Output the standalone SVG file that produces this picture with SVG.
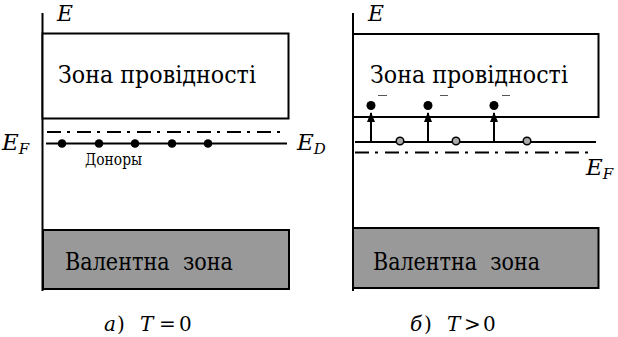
<svg xmlns="http://www.w3.org/2000/svg" width="618" height="337" viewBox="0 0 618 337">
<style>
text{font-family:'DejaVu Serif',serif;fill:#000}
.i{font-style:italic}
.ax{stroke:#000;stroke-width:2;fill:none}
.band{fill:#fff;stroke:#000;stroke-width:2}
.val{fill:#999;stroke:#000;stroke-width:2}
.lvl{stroke:#000;stroke-width:2;fill:none}
.dd{stroke:#000;stroke-width:2;fill:none;stroke-dasharray:14 6 3 7}
.arr{stroke:#000;stroke-width:2;fill:none;marker-end:url(#ah)}
.don{fill:#000}
.hole{fill:#aaa;stroke:#000;stroke-width:1.5}
.mn{stroke:#555;stroke-width:1;fill:none}
.big{font-size:24px}
.sym{font-size:23px;font-style:italic}
.sub{font-size:15px}
.cap{font-size:20px}
</style>
<defs>
<marker id="ah" markerWidth="10" markerHeight="8" refX="9" refY="4" orient="auto" markerUnits="userSpaceOnUse" viewBox="0 0 10 8">
<path d="M0,0 L10,4 L0,8 Z" fill="#000"/>
</marker>
</defs>

<g id="panel-a">
<g id="axis-a"><line class="ax" x1="42.5" y1="13" x2="42.5" y2="291"/><text class="sym" x="57" y="21" textLength="16" lengthAdjust="spacingAndGlyphs">E</text></g>
<g id="cband-a"><rect class="band" x="42.5" y="33.5" width="246" height="85"/><text class="big" x="58" y="83" textLength="198" lengthAdjust="spacingAndGlyphs">Зона провідності</text></g>
<g id="fermi-a"><line class="dd" x1="47" y1="132" x2="284" y2="132"/><text class="sym" x="2" y="150">E<tspan class="sub" dy="4">F</tspan></text></g>
<g id="donor-a"><line class="lvl" x1="46" y1="143.5" x2="287" y2="143.5"/>
<circle class="don" cx="62" cy="143.5" r="4.3"/><circle class="don" cx="99" cy="143.5" r="4.3"/><circle class="don" cx="135" cy="143.5" r="4.3"/><circle class="don" cx="172" cy="143.5" r="4.3"/><circle class="don" cx="208" cy="143.5" r="4.3"/>
<text class="sym" x="297" y="150">E<tspan class="sub" dy="4">D</tspan></text>
<text x="85" y="165" font-size="16" textLength="57" lengthAdjust="spacingAndGlyphs">Доноры</text></g>
<g id="vband-a"><rect class="val" x="43" y="230" width="246" height="59"/><text class="big" x="65" y="270" textLength="168" lengthAdjust="spacingAndGlyphs" xml:space="preserve">Валентна  зона</text></g>
<g id="caption-a"><text class="cap" y="331"><tspan class="i" x="104">а</tspan><tspan x="117">)</tspan><tspan class="i" x="140">T</tspan><tspan x="159">=</tspan><tspan x="179">0</tspan></text></g>
</g>

<g id="panel-b">
<g id="axis-b"><line class="ax" x1="353" y1="13" x2="353" y2="291"/><text class="sym" x="368" y="21" textLength="16" lengthAdjust="spacingAndGlyphs">E</text></g>
<g id="cband-b"><rect class="band" x="353" y="34" width="245.5" height="83"/><text class="big" x="370" y="83" textLength="198" lengthAdjust="spacingAndGlyphs">Зона провідності</text></g>
<g id="donor-b"><line class="lvl" x1="355" y1="142" x2="596" y2="142"/>
<circle class="hole" cx="400" cy="141" r="3.8"/><circle class="hole" cx="456" cy="141" r="3.8"/><circle class="hole" cx="527" cy="141" r="3.8"/></g>
<g id="fermi-b"><line class="dd" x1="355" y1="152.5" x2="590" y2="152.5"/><text class="sym" x="586" y="175">E<tspan class="sub" dy="4">F</tspan></text></g>
<g id="electrons-b">
<circle class="don" cx="371" cy="105.5" r="4.5"/><circle class="don" cx="428" cy="105.5" r="4.5"/><circle class="don" cx="494" cy="105.5" r="4.5"/>
<line class="mn" x1="378" y1="95.5" x2="387" y2="95.5"/><line class="mn" x1="440" y1="95.5" x2="448" y2="95.5"/><line class="mn" x1="502" y1="95.5" x2="510" y2="95.5"/>
</g>
<g id="vband-b"><rect class="val" x="353" y="228" width="245.5" height="60"/><text class="big" x="373" y="270" textLength="167" lengthAdjust="spacingAndGlyphs" xml:space="preserve">Валентна  зона</text></g>
<g id="caption-b"><text class="cap" y="331"><tspan class="i" x="410">б</tspan><tspan x="424">)</tspan><tspan class="i" x="447">T</tspan><tspan x="464">&gt;</tspan><tspan x="483">0</tspan></text></g>
</g>

<g id="connectors">
<line class="arr" x1="371" y1="142" x2="371" y2="113"/>
<line class="arr" x1="428" y1="142" x2="428" y2="113"/>
<line class="arr" x1="494" y1="142" x2="494" y2="113"/>
</g>
</svg>
